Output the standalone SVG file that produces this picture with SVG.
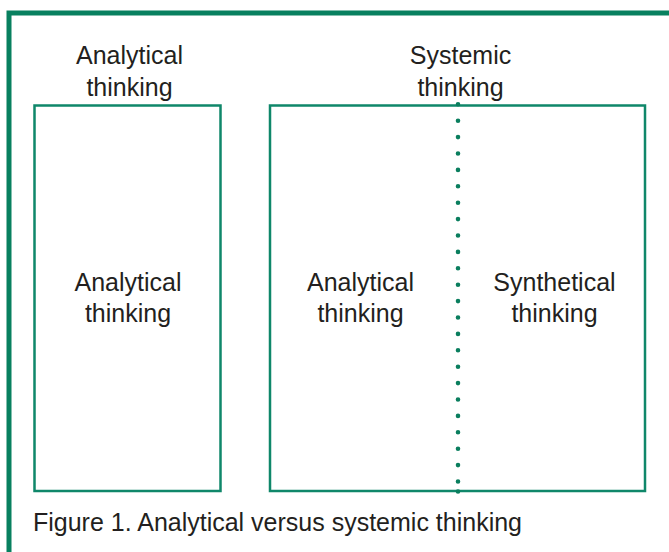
<svg xmlns="http://www.w3.org/2000/svg" width="669" height="552" viewBox="0 0 669 552">
<style>
.t{font-family:"Liberation Sans",Arial,sans-serif;font-size:25px;fill:#231f20;text-anchor:middle}
.box{fill:none;stroke:#0f876a;stroke-width:2.5}
</style>
<rect x="0" y="0" width="669" height="552" fill="#ffffff"/>
<rect id="frame" x="9" y="13" width="700" height="600" fill="none" stroke="#08805f" stroke-width="5"/>
<g id="analytical-title">
<text class="t" x="129.5" y="64">Analytical</text>
<text class="t" x="129.5" y="96">thinking</text>
</g>
<g id="systemic-title">
<text class="t" x="460.5" y="64">Systemic</text>
<text class="t" x="460.5" y="96">thinking</text>
</g>
<g id="analytical-box">
<rect class="box" x="34.5" y="105.5" width="186" height="385.5"/>
<text class="t" x="128" y="290.5">Analytical</text>
<text class="t" x="128" y="322">thinking</text>
</g>
<g id="systemic-box">
<rect class="box" x="270" y="105.5" width="375" height="385.5"/>
<text class="t" x="360.5" y="290.5">Analytical</text>
<text class="t" x="360.5" y="322">thinking</text>
<text class="t" x="554.5" y="290.5">Synthetical</text>
<text class="t" x="554.5" y="322">thinking</text>
</g>
<g id="connectors">
<line x1="458" y1="104.3" x2="458" y2="481.5" stroke="#0a7e5e" stroke-width="4.6" stroke-linecap="round" stroke-dasharray="0 16.4"/>
<circle cx="458" cy="491.5" r="2.3" fill="#0a7e5e"/>
</g>
<g id="caption">
<text x="33" y="531" font-family="Liberation Sans, Arial, sans-serif" font-size="25.5" fill="#231f20" textLength="489" lengthAdjust="spacingAndGlyphs">Figure 1. Analytical versus systemic thinking</text>
</g>
</svg>
